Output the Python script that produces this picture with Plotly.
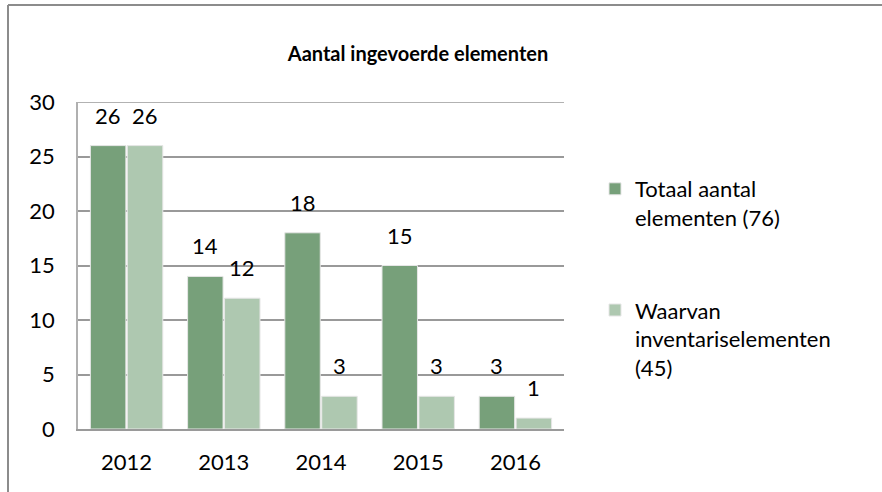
import plotly.graph_objects as go

categories = ["2012", "2013", "2014", "2015", "2016"]
totaal = [26, 14, 18, 15, 3]
inventaris = [26, 12, 3, 3, 1]
series_names = ["Totaal aantal<br>elementen (76)", "Waarvan<br>inventariselementen<br>(45)"]
y_ticks = [0, 5, 10, 15, 20, 25, 30]
title_text = "Aantal ingevoerde elementen"

DARK = "#77a07a"
LIGHT = "#aec8b0"
FONT = "Lato"

W, H = 882, 492
ML, MR, MT, MB = 78, 318, 102, 63
pw = W - ML - MR
ph = H - MT - MB
BARGAP = 0.24

fig = go.Figure()
fig.add_trace(go.Bar(x=categories, y=totaal, name=series_names[0],
                     marker=dict(color=DARK, line=dict(color="#e6e6e6", width=1)),
                     legendgroup="a"))
fig.add_trace(go.Bar(x=categories, y=inventaris, name=series_names[1],
                     marker=dict(color=LIGHT, line=dict(color="#e6e6e6", width=1)),
                     legendgroup="b"))

annotations = []
slot = pw / len(categories) * (1 - BARGAP) / 2
for vals, shift in ((totaal, -slot / 2), (inventaris, slot / 2)):
    for i, v in enumerate(vals):
        annotations.append(dict(x=i, y=v, xref="x", yref="y", text=str(v),
                                showarrow=False, yanchor="bottom", xshift=shift,
                                yshift=15, font=dict(family=FONT, size=22, color="#000")))

# top gridline at the maximum tick
fig.add_shape(type="line", xref="paper", yref="y", x0=0, x1=1,
              y0=y_ticks[-1], y1=y_ticks[-1], line=dict(color="#999999", width=1.5),
              layer="below")

# outer frame (left + top visible)
fx0 = (8 - ML) / pw
fy1 = 1 + (MT - 5) / ph
fig.add_shape(type="line", xref="paper", yref="paper", x0=fx0, x1=fx0, y0=-0.5, y1=fy1,
              line=dict(color="#8c8c8c", width=2))
fig.add_shape(type="line", xref="paper", yref="paper", x0=fx0, x1=2.0, y0=fy1, y1=fy1,
              line=dict(color="#8c8c8c", width=2))

fig.update_layout(
    width=W, height=H,
    margin=dict(l=ML, r=MR, t=MT, b=MB),
    paper_bgcolor="white", plot_bgcolor="white",
    barmode="group", bargap=BARGAP, bargroupgap=0.04,
    title=dict(text="<b>" + title_text + "</b>", x=418 / W, xanchor="center",
               y=1 - 54 / H, yanchor="middle",
               font=dict(family=FONT, size=20, color="#000")),
    font=dict(family=FONT, size=22, color="#000"),
    showlegend=True,
    legend=dict(x=(595 - ML) / pw, xanchor="left", y=1 - (168 - MT) / ph, yanchor="top",
                font=dict(family=FONT, size=22, color="#000"),
                valign="top", traceorder="grouped", tracegroupgap=61,
                bgcolor="rgba(0,0,0,0)"),
    annotations=annotations,
    xaxis=dict(type="category", automargin=False, showgrid=False, showline=True,
               linecolor="#9a9a9a", linewidth=2,
               ticks="outside", ticklen=13, tickcolor="rgba(0,0,0,0)",
               tickfont=dict(family=FONT, size=22, color="#000")),
    yaxis=dict(range=[0, 30], tickvals=y_ticks, automargin=False, showgrid=True,
               gridcolor="#999999", gridwidth=1.5, zeroline=False, showline=True,
               linecolor="#b0b0b0", linewidth=1.5, ticks="outside", ticklen=17,
               tickcolor="rgba(0,0,0,0)",
               tickfont=dict(family=FONT, size=22, color="#000")),
)

fig.write_html("out.html", config={"displayModeBar": False},
               post_script="document.body.style.margin='0px';document.body.style.overflow='hidden';")
